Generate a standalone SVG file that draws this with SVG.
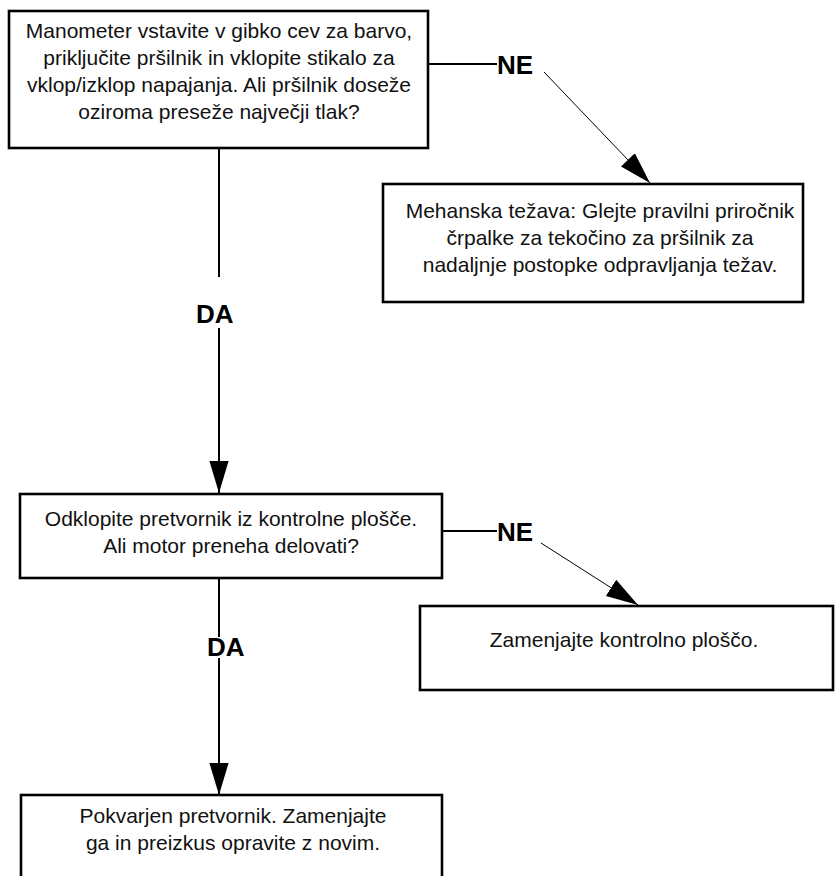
<svg xmlns="http://www.w3.org/2000/svg" width="835" height="876" viewBox="0 0 835 876">
<style>
.box{fill:#fff;stroke:#000;stroke-width:2.6}
.t{font-family:"Liberation Sans",Arial,sans-serif;font-size:21px;fill:#111;text-anchor:middle}
.lbl{font-family:"Liberation Sans",Arial,sans-serif;font-size:26px;font-weight:bold;fill:#000}
.ln{stroke:#000;stroke-width:2;fill:none}
.dg{stroke:#000;stroke-width:1;fill:none}
</style>
<defs>
<marker id="ah" markerUnits="userSpaceOnUse" markerWidth="32" markerHeight="20" viewBox="0 0 30 18" refX="30" refY="9" orient="auto">
<path d="M0,0 L30,9 L0,18 z" fill="#000"/>
</marker>
</defs>
<rect width="835" height="876" fill="#fff"/>
<g id="connectors">
<line class="ln" x1="428" y1="64" x2="497" y2="64"/>
<line class="dg" x1="544" y1="72" x2="650" y2="183" marker-end="url(#ah)"/>
<line class="ln" x1="219" y1="148" x2="219" y2="277"/>
<line class="ln" x1="219" y1="328" x2="219" y2="493" marker-end="url(#ah)"/>
<line class="ln" x1="442" y1="531" x2="497" y2="531"/>
<line class="dg" x1="541" y1="543" x2="638" y2="605" marker-end="url(#ah)"/>
<line class="ln" x1="219" y1="578" x2="219" y2="637"/>
<line class="ln" x1="219" y1="658" x2="219" y2="795" marker-end="url(#ah)"/>
<text class="lbl" x="497" y="74">NE</text>
<text class="lbl" x="196" y="323">DA</text>
<text class="lbl" x="497" y="541">NE</text>
<text class="lbl" x="207" y="656">DA</text>
</g>
<g id="n1">
<rect class="box" x="9" y="11" width="419" height="137"/>
<text class="t" x="219" y="38">Manometer vstavite v gibko cev za barvo,</text>
<text class="t" x="219" y="65">priključite pršilnik in vklopite stikalo za</text>
<text class="t" x="219" y="92">vklop/izklop napajanja. Ali pršilnik doseže</text>
<text class="t" x="219" y="119">oziroma preseže največji tlak?</text>
</g>
<g id="n2">
<rect class="box" x="383" y="184" width="420" height="118"/>
<text class="t" x="600" y="218">Mehanska težava: Glejte pravilni priročnik</text>
<text class="t" x="600" y="245">črpalke za tekočino za pršilnik za</text>
<text class="t" x="600" y="272">nadaljnje postopke odpravljanja težav.</text>
</g>
<g id="n3">
<rect class="box" x="20" y="494" width="422" height="84"/>
<text class="t" x="231" y="526">Odklopite pretvornik iz kontrolne plošče.</text>
<text class="t" x="231" y="553">Ali motor preneha delovati?</text>
</g>
<g id="n4">
<rect class="box" x="420" y="606" width="413" height="84"/>
<text class="t" x="624" y="647">Zamenjajte kontrolno ploščo.</text>
</g>
<g id="n5">
<rect class="box" x="21" y="795" width="421" height="90"/>
<text class="t" x="233" y="823">Pokvarjen pretvornik. Zamenjajte</text>
<text class="t" x="233" y="850">ga in preizkus opravite z novim.</text>
</g>
</svg>
